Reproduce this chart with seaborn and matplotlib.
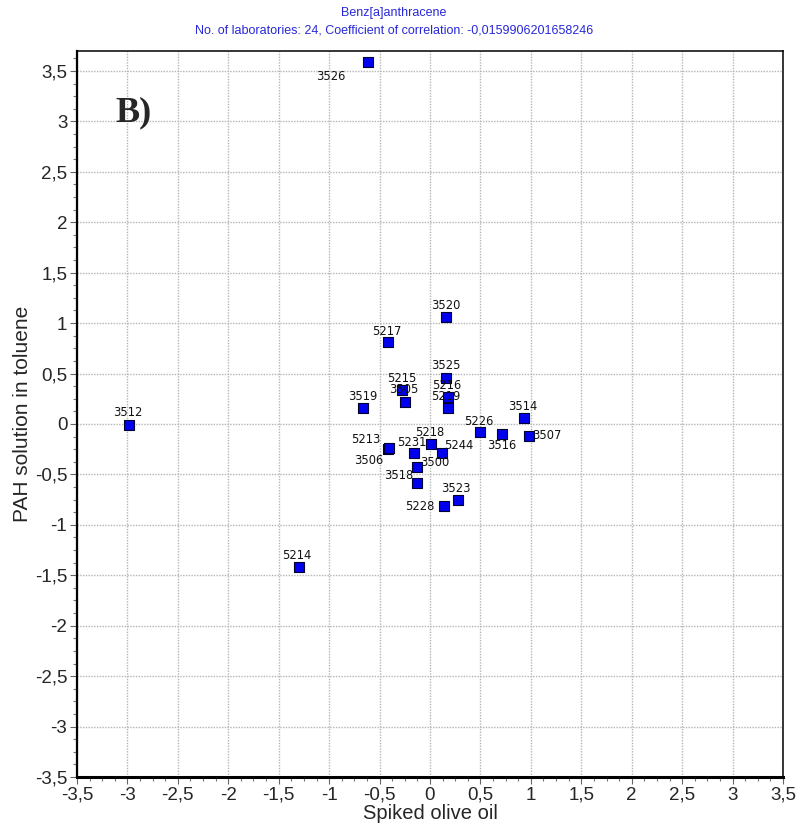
import matplotlib
matplotlib.use("Agg")
import matplotlib.pyplot as plt
from matplotlib.ticker import MultipleLocator, FuncFormatter
import seaborn as sns
import pandas as pd

# Laboratory z-scores: spiked olive oil (x) vs PAH solution in toluene (y)
lab_ids = ["3526", "3520", "5217", "3525", "5215", "3505", "5216", "5219",
           "3519", "3512", "5226", "3516", "3514", "3507", "5213", "3506",
           "5218", "5231", "5244", "3500", "3518", "3523", "5228", "5214"]
olive_oil = [-0.61, 0.16, -0.42, 0.16, -0.28, -0.25, 0.18, 0.18,
             -0.66, -2.98, 0.50, 0.71, 0.93, 0.98, -0.42, -0.41,
             0.01, -0.16, 0.12, -0.13, -0.13, 0.28, 0.14, -1.30]
toluene = [3.59, 1.06, 0.81, 0.46, 0.34, 0.22, 0.27, 0.16,
           0.16, -0.01, -0.08, -0.10, 0.06, -0.12, -0.25, -0.24,
           -0.20, -0.29, -0.29, -0.43, -0.59, -0.75, -0.81, -1.42]

title_lines = ["Benz[a]anthracene",
               "No. of laboratories: 24, Coefficient of correlation: -0,0159906201658246"]

# Label placement around each marker, in pixels (dx right, dy up)
label_offsets = {
    "3526": (-38, -15), "3520": (0, 12), "5217": (-1, 11), "3525": (0, 12),
    "5215": (0, 11), "3505": (-1, 12), "5216": (-1, 11), "5219": (-2, 11),
    "3519": (-1, 11), "3512": (-2, 12), "5226": (-2, 11), "3516": (0, -11),
    "3514": (-1, 11), "3507": (18, 1), "5213": (-22, 10), "3506": (-20, -12),
    "5218": (-1, 12), "5231": (-2, 11), "5244": (17, 8), "3500": (18, 5),
    "3518": (-18, 8), "3523": (-2, 11), "5228": (-24, -1), "5214": (-2, 12),
}

df = pd.DataFrame({"lab": lab_ids, "olive": olive_oil, "toluene": toluene})

sns.set_theme(style="white")
plt.rcParams["font.family"] = ["Liberation Sans", "DejaVu Sans"]

fig = plt.figure(figsize=(7.96, 8.25), dpi=100)
ax = fig.add_axes([0.0967, 0.0582, 0.8870, 0.8803])

sns.scatterplot(data=df, x="olive", y="toluene", ax=ax, marker="s", s=50,
                color="#0000ee", edgecolor="#000033", linewidth=0.8, zorder=3)

for lab, xv, yv in zip(lab_ids, olive_oil, toluene):
    dx, dy = label_offsets[lab]
    ax.annotate(lab, (xv, yv), xytext=(dx, dy), textcoords="offset pixels",
                ha="center", va="center", fontsize=8.3, color="#111111",
                family=["DejaVu Sans"], zorder=4)

ax.set_xlim(-3.5, 3.5)
ax.set_ylim(-3.5, 3.70)
ax.xaxis.set_major_locator(MultipleLocator(0.5))
ax.yaxis.set_major_locator(MultipleLocator(0.5))
ax.xaxis.set_minor_locator(MultipleLocator(0.125))
ax.yaxis.set_minor_locator(MultipleLocator(0.125))
comma = FuncFormatter(lambda v, p: ("%g" % v).replace(".", ","))
ax.xaxis.set_major_formatter(comma)
ax.yaxis.set_major_formatter(comma)

ax.tick_params(which="major", direction="out", length=5, width=0.8,
               color="#666666", labelsize=13.5, pad=2, bottom=True, left=True)
ax.tick_params(which="minor", direction="out", length=3, width=0.8,
               color="#777777", bottom=True, left=True)

ax.grid(True, which="major", linestyle=(0, (1, 1)), color="#b5b5b5", linewidth=1)
ax.set_axisbelow(True)

for side, lw in (("left", 1.6), ("bottom", 2.2), ("top", 1.1), ("right", 1.1)):
    ax.spines[side].set_visible(True)
    ax.spines[side].set_color("black")
    ax.spines[side].set_linewidth(lw)

ax.set_xlabel("Spiked olive oil", fontsize=14.5, labelpad=0)
ax.set_ylabel("PAH solution in toluene", fontsize=15, labelpad=2)

fig.text(0.495, 0.992, title_lines[0], ha="center", va="top", fontsize=9,
         color="#2828d8", family=["Liberation Sans Narrow", "Liberation Sans"])
fig.text(0.495, 0.970, title_lines[1], ha="center", va="top", fontsize=9,
         color="#2828d8", family=["Liberation Sans Narrow", "Liberation Sans"])

ax.text(0.054, 0.903, "B)", transform=ax.transAxes, fontsize=26,
        fontweight="bold", family=["Liberation Serif", "DejaVu Serif"],
        ha="left", va="baseline")

fig.savefig("out.png", dpi=100)
